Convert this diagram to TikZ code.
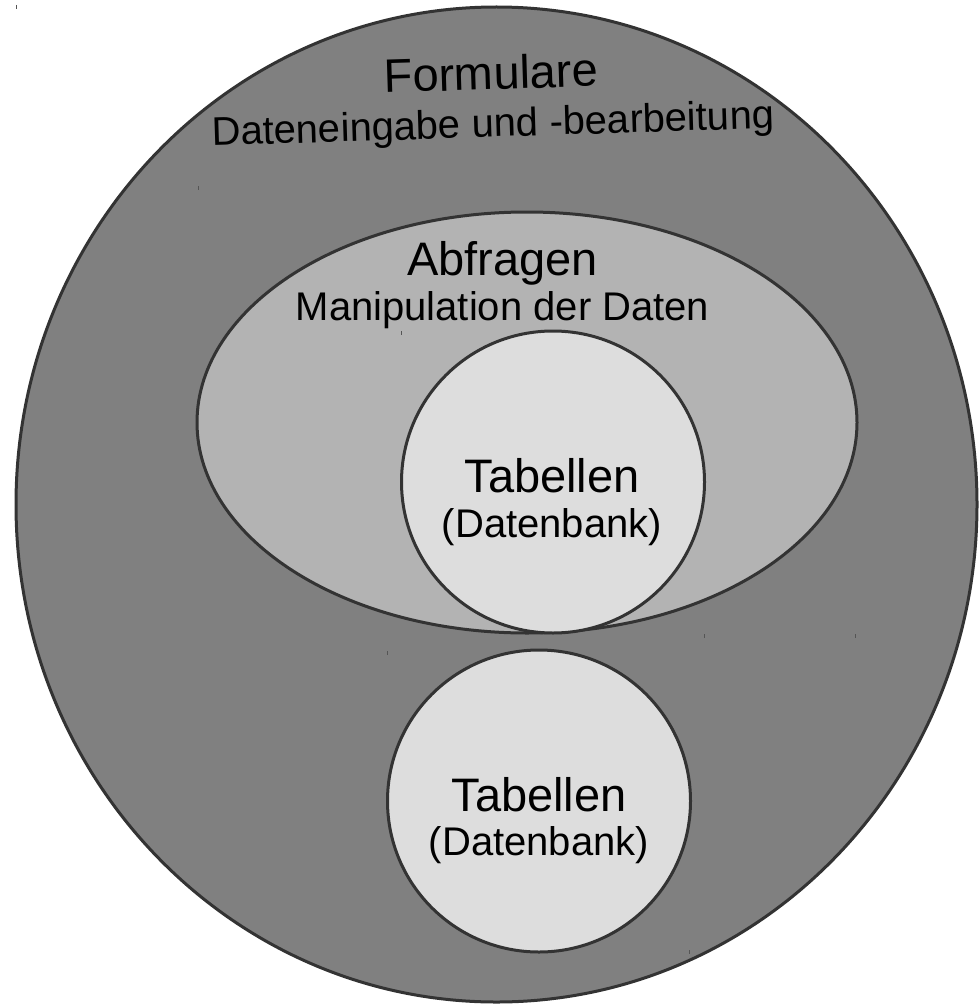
\documentclass[tikz,border=0pt]{standalone}
\usepackage{fontspec}
\setmainfont{Liberation Sans}
\usetikzlibrary{shapes.geometric}
\definecolor{outerfill}{HTML}{808080}
\definecolor{midfill}{HTML}{B3B3B3}
\definecolor{innerfill}{HTML}{DDDDDD}
\definecolor{edge}{HTML}{333333}
\definecolor{tick}{HTML}{555555}
\tikzset{
  area/.style={ellipse, draw=edge, line width=3pt, inner sep=0pt},
  bigtxt/.style={anchor=base, inner sep=0pt, font=\fontsize{47}{50}\selectfont},
  smalltxt/.style={anchor=base, inner sep=0pt, font=\fontsize{40}{42}\selectfont},
  tickmark/.style={draw=tick, line width=1pt}
}
\begin{document}
\begin{tikzpicture}[x=1pt, y=-1pt]
\useasboundingbox (0,0) rectangle (978,1006);
\node (outer) [area, fill=outerfill, minimum width=961pt, minimum height=995pt] at (496.5,504.5) {};
\node (query) [area, fill=midfill, minimum width=660pt, minimum height=421pt] at (527,422.5) {};
\node (tabA) [area, fill=innerfill, minimum width=303pt, minimum height=302pt] at (553,482) {};
\node (tabB) [area, fill=innerfill, minimum width=303pt, minimum height=302pt] at (539,801) {};
\node (t1) [bigtxt, rotate=1.8] at (491.5,89.5) {Formulare};
\node (t2) [smalltxt, rotate=1.8] at (493.5,137) {Dateneingabe und -bearbeitung};
\node (t3) [bigtxt] at (502.5,275) {Abfragen};
\node (t4) [smalltxt] at (502.5,320) {Manipulation der Daten};
\node (t5) [bigtxt] at (552,492) {Tabellen};
\node (t6) [smalltxt] at (552,537) {(Datenbank)};
\node (t7) [bigtxt] at (539,811) {Tabellen};
\node (t8) [smalltxt] at (539,855) {(Datenbank)};
\coordinate (m1) at (16,5); \draw[tickmark] (m1) -- ++(0,4);
\coordinate (m2) at (198,186); \draw[tickmark] (m2) -- ++(0,4);
\coordinate (m3) at (401,331); \draw[tickmark] (m3) -- ++(0,4);
\coordinate (m4) at (387,651); \draw[tickmark] (m4) -- ++(0,4);
\coordinate (m5) at (704,634); \draw[tickmark] (m5) -- ++(0,4);
\coordinate (m6) at (855,634); \draw[tickmark] (m6) -- ++(0,4);
\coordinate (m7) at (689,950); \draw[tickmark] (m7) -- ++(0,4);
\end{tikzpicture}
\end{document}
